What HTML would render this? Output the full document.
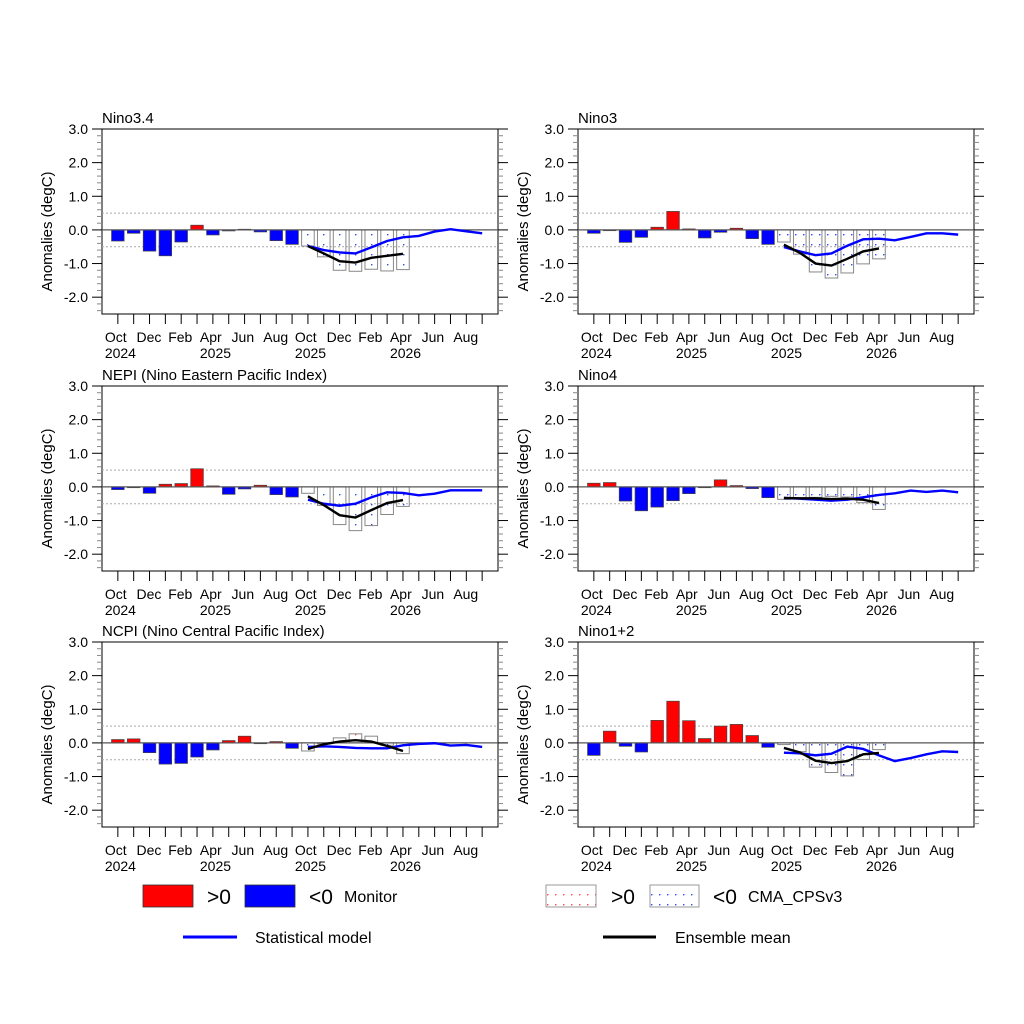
<!DOCTYPE html>
<html><head><meta charset="utf-8"><style>
html,body{margin:0;padding:0;background:#fff;}
svg{display:block;font-family:"Liberation Sans",sans-serif;}
</style></head><body>
<svg id="fig" width="1024" height="1024" viewBox="0 0 1024 1024">
<defs>
<pattern id="dotsBlue" width="8" height="10" patternUnits="userSpaceOnUse"><rect x="3" y="4" width="1.4" height="1.4" fill="#3344ff"/></pattern>
<pattern id="dotsRed" width="8" height="10" patternUnits="userSpaceOnUse"><rect x="3" y="4" width="1.4" height="1.4" fill="#ff4444"/></pattern>
</defs>
<g id="legend">
<rect x="143" y="885" width="50" height="22" fill="#ff0000" stroke="#333" stroke-width="0.8"/>
<text x="207" y="904" font-size="21">&gt;0</text>
<rect x="245" y="885" width="50" height="22" fill="#0000ff" stroke="#333" stroke-width="0.8"/>
<text x="309" y="904" font-size="21">&lt;0</text>
<text x="344" y="902" font-size="16">Monitor</text>
<rect x="546" y="885" width="50" height="22" fill="url(#dotsRed)" stroke="#999" stroke-width="1"/>
<text x="611" y="904" font-size="21">&gt;0</text>
<rect x="650" y="885" width="49" height="22" fill="url(#dotsBlue)" stroke="#999" stroke-width="1"/>
<text x="713" y="904" font-size="21">&lt;0</text>
<text x="748" y="902" font-size="16">CMA_CPSv3</text>
<line x1="183" y1="937" x2="237" y2="937" stroke="#0000ff" stroke-width="3"/>
<text x="255" y="943" font-size="16">Statistical model</text>
<line x1="603" y1="937" x2="656" y2="937" stroke="#000" stroke-width="3"/>
<text x="675" y="943" font-size="16">Ensemble mean</text>
</g>
</svg>
<script>
const monthLabels = ["Oct","","Dec","","Feb","","Apr","","Jun","","Aug","","Oct","","Dec","","Feb","","Apr","","Jun","","Aug",""];
const yearLabels = {0:"2024",6:"2025",12:"2025",18:"2026"};
const yTicks = [3.0,2.0,1.0,0.0,-1.0,-2.0];
const panelTitles = ["Nino3.4","Nino3","NEPI (Nino Eastern Pacific Index)","Nino4","NCPI (Nino Central Pacific Index)","Nino1+2"];
const monitorN34 = [-0.33,-0.1,-0.63,-0.77,-0.36,0.14,-0.15,-0.03,0.02,-0.06,-0.32,-0.43];
const forecastN34 = [-0.48,-0.8,-1.2,-1.23,-1.17,-1.22,-1.18];
const ensembleN34 = [-0.48,-0.7,-0.93,-0.97,-0.83,-0.77,-0.71];
const statN34 = [-0.48,-0.6,-0.67,-0.7,-0.52,-0.33,-0.22,-0.18,-0.05,0.02,-0.04,-0.1];
const monitorN3 = [-0.1,-0.02,-0.37,-0.22,0.08,0.55,0.03,-0.24,-0.07,0.05,-0.26,-0.43];
const forecastN3 = [-0.36,-0.72,-1.25,-1.43,-1.28,-1.01,-0.86];
const ensembleN3 = [-0.44,-0.68,-1.0,-1.06,-0.86,-0.64,-0.55];
const statN3 = [-0.51,-0.64,-0.75,-0.7,-0.47,-0.28,-0.26,-0.31,-0.21,-0.1,-0.1,-0.14];
const monitorNEPI = [-0.08,-0.02,-0.19,0.08,0.1,0.54,0.03,-0.22,-0.06,0.05,-0.23,-0.3];
const forecastNEPI = [-0.19,-0.55,-1.12,-1.3,-1.15,-0.82,-0.58];
const ensembleNEPI = [-0.28,-0.54,-0.84,-0.91,-0.69,-0.48,-0.39];
const statNEPI = [-0.38,-0.5,-0.56,-0.5,-0.31,-0.16,-0.18,-0.25,-0.2,-0.1,-0.1,-0.1];
const monitorN4 = [0.11,0.13,-0.42,-0.71,-0.6,-0.41,-0.2,-0.02,0.21,0.04,-0.05,-0.32];
const forecastN4 = [-0.37,-0.32,-0.31,-0.28,-0.3,-0.47,-0.67];
const ensembleN4 = [-0.33,-0.34,-0.34,-0.36,-0.35,-0.38,-0.48];
const statN4 = [-0.33,-0.35,-0.38,-0.41,-0.38,-0.31,-0.24,-0.19,-0.11,-0.15,-0.11,-0.16];
const monitorNCPI = [0.1,0.12,-0.29,-0.63,-0.61,-0.42,-0.21,0.07,0.2,0.0,0.04,-0.16];
const forecastNCPI = [-0.24,-0.03,0.15,0.27,0.2,-0.07,-0.32];
const ensembleNCPI = [-0.18,-0.04,0.04,0.08,0.04,-0.09,-0.24];
const statNCPI = [-0.12,-0.1,-0.12,-0.15,-0.16,-0.16,-0.07,-0.03,-0.01,-0.08,-0.06,-0.12];
const monitorN12 = [-0.37,0.35,-0.1,-0.27,0.67,1.24,0.66,0.13,0.5,0.55,0.22,-0.13];
const forecastN12 = [-0.05,-0.26,-0.72,-0.88,-0.98,-0.49,-0.2];
const ensembleN12 = [-0.15,-0.28,-0.53,-0.6,-0.54,-0.34,-0.3];
const statN12 = [-0.29,-0.31,-0.37,-0.32,-0.11,-0.18,-0.37,-0.54,-0.45,-0.34,-0.25,-0.27];

const panels = [
 {title:panelTitles[0],mon:monitorN34,fc:forecastN34,ens:ensembleN34,st:statN34,x0:102,y0:129,key:"nino34"},
 {title:panelTitles[1],mon:monitorN3,fc:forecastN3,ens:ensembleN3,st:statN3,x0:578,y0:129,key:"nino3"},
 {title:panelTitles[2],mon:monitorNEPI,fc:forecastNEPI,ens:ensembleNEPI,st:statNEPI,x0:102,y0:386,key:"nepi"},
 {title:panelTitles[3],mon:monitorN4,fc:forecastN4,ens:ensembleN4,st:statN4,x0:578,y0:386,key:"nino4"},
 {title:panelTitles[4],mon:monitorNCPI,fc:forecastNCPI,ens:ensembleNCPI,st:statNCPI,x0:102,y0:642,key:"ncpi"},
 {title:panelTitles[5],mon:monitorN12,fc:forecastN12,ens:ensembleN12,st:statN12,x0:578,y0:642,key:"nino12"}
];
const NS="http://www.w3.org/2000/svg";
const svg=document.getElementById("fig");
function mk(tag,attrs,parent){const e=document.createElementNS(NS,tag);for(const k in attrs)e.setAttribute(k,attrs[k]);parent.appendChild(e);return e;}
const W=396,H=185,YMIN=-2.5,YMAX=3.0,BW=12.6;
panels.forEach(p=>{
 const g=mk("g",{},svg);
 
 
 const xs=i=>p.x0+(i+1)*W/25;
 const ys=v=>p.y0+(YMAX-v)*H/(YMAX-YMIN);
 const fr=mk("rect",{x:p.x0,y:p.y0,width:W,height:H,fill:"none",stroke:"#000","stroke-width":1},g);
 
 
 [0.5,-0.5].forEach(v=>{const l=mk("line",{x1:p.x0,x2:p.x0+W,y1:ys(v),y2:ys(v),stroke:"#aaa","stroke-width":1,"stroke-dasharray":"2,2"},g);
  
  });
 for(let k=-12;k<=15;k++){const v=k*0.2;if(v<YMIN-1e-6||v>YMAX+1e-6)continue;const y=ys(v);
  const major=Math.abs(v-Math.round(v))<1e-6&&v>-2.4;
  const len=major?10:5,col=major?"#000":"#888";
  mk("line",{x1:p.x0-len,x2:p.x0,y1:y,y2:y,stroke:col,"stroke-width":1},g);
  mk("line",{x1:p.x0+W,x2:p.x0+W+len,y1:y,y2:y,stroke:col,"stroke-width":1},g);}
 yTicks.forEach(v=>{const t=mk("text",{x:p.x0-14,y:ys(v)+5,"font-size":14,"text-anchor":"end"},g);t.textContent=v.toFixed(1);
  
  });
 const yt=mk("text",{x:0,y:0,"font-size":15,"text-anchor":"middle",transform:`translate(${p.x0-50},${p.y0+H/2+10}) rotate(-90)`},g);
 yt.textContent="Anomalies (degC)";
 
 
 const tt=mk("text",{x:p.x0,y:p.y0-6,"font-size":15},g);tt.textContent=p.title;
 
 
 monthLabels.forEach((m,i)=>{const x=xs(i);mk("line",{x1:x,x2:x,y1:p.y0+H,y2:p.y0+H+10,stroke:"#000","stroke-width":1},g);
  if(m){const t=mk("text",{x:x-13,y:p.y0+H+28,"font-size":14},g);t.textContent=m;
   
   }
  if(yearLabels[i]){const t=mk("text",{x:x-13,y:p.y0+H+44,"font-size":14},g);t.textContent=yearLabels[i];
   
   }});
 p.mon.forEach((v,i)=>{const y1=ys(Math.max(v,0)),y2=ys(Math.min(v,0));
  const r=mk("rect",{x:xs(i)-BW/2,y:y1,width:BW,height:Math.max(y2-y1,0.8),fill:v>=0?"#ff0000":"#0000ff",stroke:"#444","stroke-width":0.7},g);
  
  });
 p.fc.forEach((v,i)=>{const j=i+12;const y1=ys(Math.max(v,0)),y2=ys(Math.min(v,0));
  const r=mk("rect",{x:xs(j)-BW/2,y:y1,width:BW,height:Math.max(y2-y1,0.8),fill:v>=0?"url(#dotsRed)":"url(#dotsBlue)",stroke:"#888","stroke-width":1},g);
  
  });
 const z=mk("line",{x1:p.x0,x2:p.x0+W,y1:ys(0),y2:ys(0),stroke:"#555","stroke-width":1.2},g);
 
 
 const sl=mk("polyline",{points:p.st.map((v,i)=>xs(i+12)+","+ys(v)).join(" "),fill:"none",stroke:"#0000ff","stroke-width":2.4},g);
 
 
 const el=mk("polyline",{points:p.ens.map((v,i)=>xs(i+12)+","+ys(v)).join(" "),fill:"none",stroke:"#000","stroke-width":2.4},g);
 
 
});
</script>
</body></html>
